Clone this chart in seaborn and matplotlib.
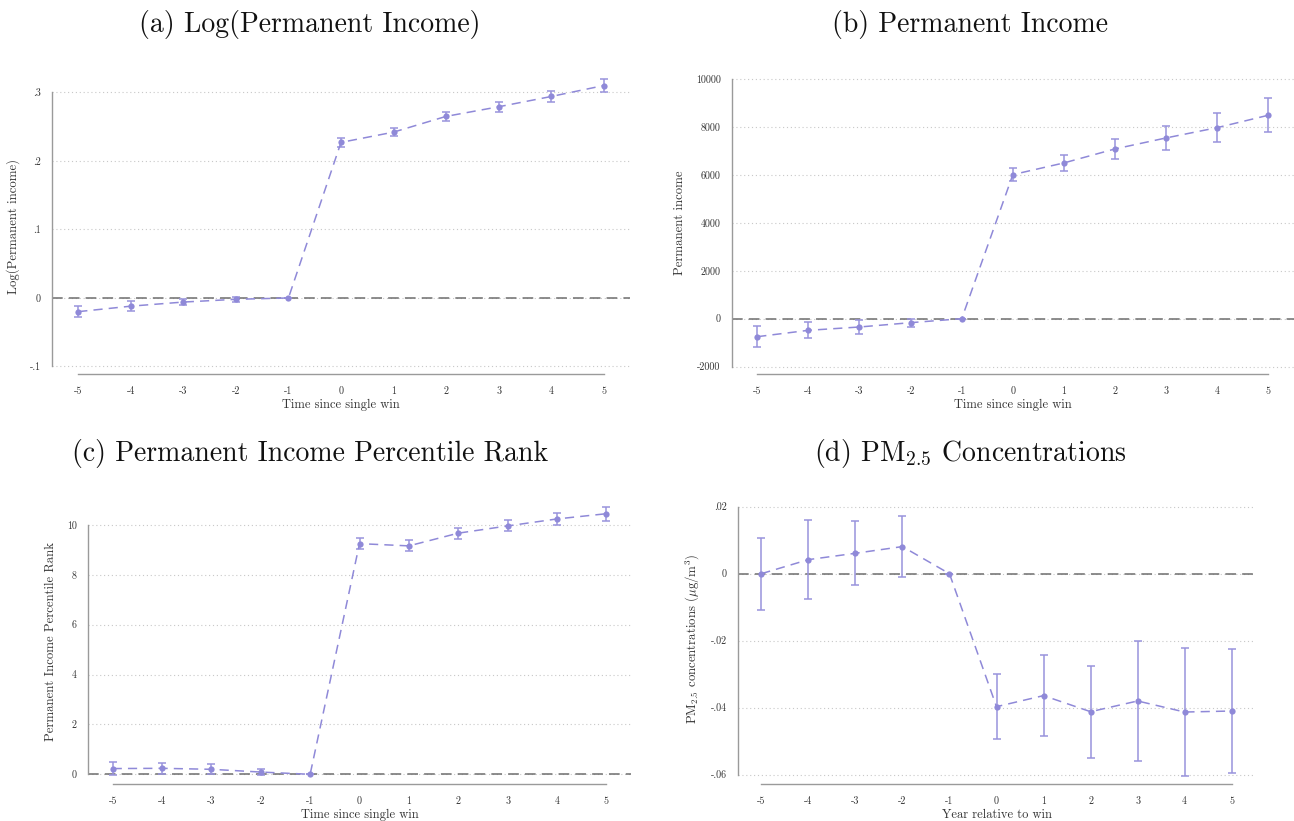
import numpy as np
import pandas as pd
import matplotlib
matplotlib.use("Agg")
import matplotlib.pyplot as plt
import seaborn as sns

# ---------------- data ----------------
event_time = [-5, -4, -3, -2, -1, 0, 1, 2, 3, 4, 5]

log_inc = [-0.020, -0.012, -0.006, -0.002, 0.0, 0.227, 0.242, 0.265, 0.279, 0.294, 0.310]
log_inc_ci = [0.0085, 0.007, 0.005, 0.004, 0.0, 0.006, 0.006, 0.0065, 0.0075, 0.0085, 0.009]

perm_inc = [-752, -486, -347, -167, 0, 6015, 6504, 7089, 7548, 7978, 8496]
perm_inc_ci = [430, 335, 280, 165, 0, 265, 335, 420, 500, 600, 700]

pct_rank = [0.23, 0.24, 0.20, 0.09, 0.0, 9.25, 9.16, 9.67, 9.96, 10.24, 10.45]
pct_rank_ci = [0.26, 0.22, 0.20, 0.13, 0.0, 0.22, 0.22, 0.22, 0.22, 0.24, 0.28]

pm25 = [0.0, 0.0042, 0.0061, 0.0081, 0.0, -0.0397, -0.0364, -0.0412, -0.0380, -0.0413, -0.0410]
pm25_ci = [0.0107, 0.0117, 0.0095, 0.0090, 0.0, 0.0097, 0.0120, 0.0137, 0.0180, 0.0190, 0.0186]

xtick_labels = ["-5", "-4", "-3", "-2", "-1", "0", "1", "2", "3", "4", "5"]

titles = ["(a) Log(Permanent Income)", "(b) Permanent Income",
          "(c) Permanent Income Percentile Rank", "(d) PM$_{2.5}$ Concentrations"]
ylabels = ["Log(Permanent income)", "Permanent income",
           "Permanent Income Percentile Rank",
           r"PM$_{2.5}$ concentrations ($\mu$g/m$^3$)"]
xlabels = ["Time since single win", "Time since single win",
           "Time since single win", "Year relative to win"]

yticks_a = [-0.1, 0.0, 0.1, 0.2, 0.3]
yticklabels_a = ["-.1", "0", ".1", ".2", ".3"]
yticks_b = [-2000, 0, 2000, 4000, 6000, 8000, 10000]
yticklabels_b = ["-2000", "0", "2000", "4000", "6000", "8000", "10000"]
yticks_c = [0, 2, 4, 6, 8, 10]
yticklabels_c = ["0", "2", "4", "6", "8", "10"]
yticks_d = [-0.06, -0.04, -0.02, 0.0, 0.02]
yticklabels_d = ["-.06", "-.04", "-.02", "0", ".02"]

# ---------------- style ----------------
sns.set_theme(style="white")
plt.rcParams["font.family"] = ["cmr10", "DejaVu Serif"]
plt.rcParams["mathtext.fontset"] = "cm"
plt.rcParams["axes.unicode_minus"] = False
plt.rcParams["axes.formatter.use_mathtext"] = True

W, H = 1294, 821
fig = plt.figure(figsize=(W / 100, H / 100), dpi=100)

LINE_C = "#8f89d8"
ERR_C = "#9993dc"
ZERO_C = "#6e6e6e"
GRID_C = "#c8c8c8"
SPINE_C = "#9a9a9a"
TEXT_C = "#333333"


def px_axes(left, right, top, bottom):
    return [left / W, 1 - bottom / H, (right - left) / W, (bottom - top) / H]


panels = [
    dict(rect=px_axes(52, 630, 78, 374), y=log_inc, ci=log_inc_ci,
         ylim=(-0.111, 0.321), yt=yticks_a, ytl=yticklabels_a),
    dict(rect=px_axes(731.7, 1294, 72, 374), y=perm_inc, ci=perm_inc_ci,
         ylim=(-2310, 10300), yt=yticks_b, ytl=yticklabels_b),
    dict(rect=px_axes(88, 631, 500, 783.7), y=pct_rank, ci=pct_rank_ci,
         ylim=(-0.377, 11.0), yt=yticks_c, ytl=yticklabels_c),
    dict(rect=px_axes(737.8, 1255.2, 495, 783.7), y=pm25, ci=pm25_ci,
         ylim=(-0.0627, 0.0235), yt=yticks_d, ytl=yticklabels_d),
]

# title baseline positions in pixels (center x, baseline y)
title_pos = [(310, 32), (970, 32), (310, 461), (970, 461)]

for i, p in enumerate(panels):
    ax = fig.add_axes(p["rect"])
    df = pd.DataFrame({"t": event_time, "b": p["y"], "ci": p["ci"]})

    for yv in p["yt"]:
        ax.axhline(yv, color=GRID_C, lw=0.8, ls=(0, (1, 2.5)), zorder=0)
    ax.axhline(0, color=ZERO_C, lw=1.1, ls=(0, (7, 4)), zorder=1)

    ax.errorbar(df["t"], df["b"], yerr=df["ci"], fmt="none", ecolor=ERR_C,
                elinewidth=1.1, capsize=3, capthick=1.1, zorder=2)
    sns.lineplot(data=df, x="t", y="b", ax=ax, color=LINE_C, lw=1.1,
                 linestyle=(0, (6, 4)), marker="o", markersize=4.5,
                 markeredgewidth=0, markerfacecolor=LINE_C, zorder=3)

    ax.set_xlim(-5.5, 5.5)
    ax.set_ylim(*p["ylim"])
    ax.set_xticks(event_time)
    ax.set_xticklabels(xtick_labels)
    ax.set_yticks(p["yt"])
    ax.set_yticklabels(p["ytl"])

    for s in ["top", "right"]:
        ax.spines[s].set_visible(False)
    for s in ["left", "bottom"]:
        ax.spines[s].set_color(SPINE_C)
        ax.spines[s].set_linewidth(1.0)
    ax.spines["bottom"].set_bounds(-5, 5)
    ax.spines["left"].set_bounds(p["yt"][0], p["yt"][-1])

    ax.tick_params(axis="both", which="major", direction="out", length=4,
                   width=0.8, color=SPINE_C, labelsize=7.2, labelcolor=TEXT_C,
                   pad=4)
    ax.tick_params(axis="x", pad=5)
    ax.set_xlabel(xlabels[i], fontsize=9, color=TEXT_C, labelpad=2)
    ax.set_ylabel(ylabels[i], fontsize=9.2, color=TEXT_C, labelpad=7)
    ax.grid(False)

    tx, ty = title_pos[i]
    fig.text(tx / W, 1 - ty / H, titles[i], ha="center", va="baseline",
             fontsize=20, color="#111111")

fig.savefig("out.png", dpi=100)
